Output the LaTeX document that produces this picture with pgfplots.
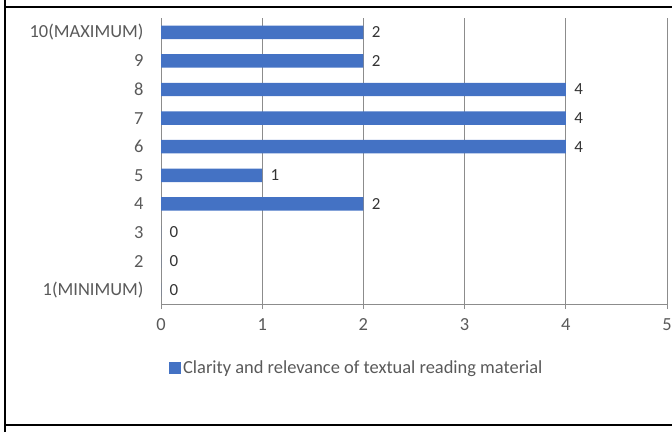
\documentclass[border=0pt]{standalone}
\usepackage{pgfplots}
\pgfplotsset{compat=1.18}
\usepackage{fontspec}
\setmainfont{Carlito}
\definecolor{barblue}{HTML}{4472C4}
\definecolor{txt}{HTML}{595959}
\definecolor{gridc}{HTML}{8C8C8C}
\begin{document}
\begin{tikzpicture}[x=1bp,y=1bp]
\path[use as bounding box] (0,0) rectangle (672,432);
\draw[line width=2bp] (5,0) -- (5,432);
\draw[line width=2bp] (5,425) -- (672,425);
\draw[line width=2bp] (5,7) -- (672,7);
\begin{axis}[
  at={(161bp,128bp)}, anchor=south west,
  scale only axis, width=506bp, height=286bp,
  xbar, bar width=0.47,
  xmin=0, xmax=5, ymin=0.5, ymax=10.5,
  axis x line*=bottom, axis y line*=left,
  axis line style={gridc, line width=0.9bp},
  xtick={0,1,2,3,4,5},
  ytick={1,2,3,4,5,6,7,8,9,10},
  yticklabels={1(MINIMUM),2,3,4,5,6,7,8,9,10(MAXIMUM)},
  minor ytick={0.5,1.5,2.5,3.5,4.5,5.5,6.5,7.5,8.5,9.5,10.5},
  tick align=outside,
  major tick length=5bp, minor tick length=5bp,
  ytick style={draw=none},
  minor tick style={gridc, line width=0.9bp},
  xtick style={gridc, line width=0.9bp},
  xmajorgrids, grid style={gridc, line width=0.9bp},
  /pgf/number format/assume math mode=true,
  tick label style={font=\fontsize{18.5}{21}\selectfont, text=txt},
  yticklabel style={xshift=-9bp},
  xticklabel style={yshift=-6bp},
  nodes near coords,
  nodes near coords style={anchor=west, xshift=5bp, font=\fontsize{17}{20}\selectfont, text=black!80},
  legend style={at={(0.387,-0.224)}, anchor=center, draw=none, fill=none,
    font=\fontsize{18.5}{21}\selectfont, text=txt, inner sep=0pt},
  legend image code/.code={\fill[barblue] (0bp,-6bp) rectangle (12bp,6bp);},
]
\addplot[fill=barblue, draw=none] coordinates {
  (0,1) (0,2) (0,3) (2,4) (1,5) (4,6) (4,7) (4,8) (2,9) (2,10)
};
\addlegendentry{Clarity and relevance of textual reading material}
\end{axis}
\end{tikzpicture}
\end{document}
